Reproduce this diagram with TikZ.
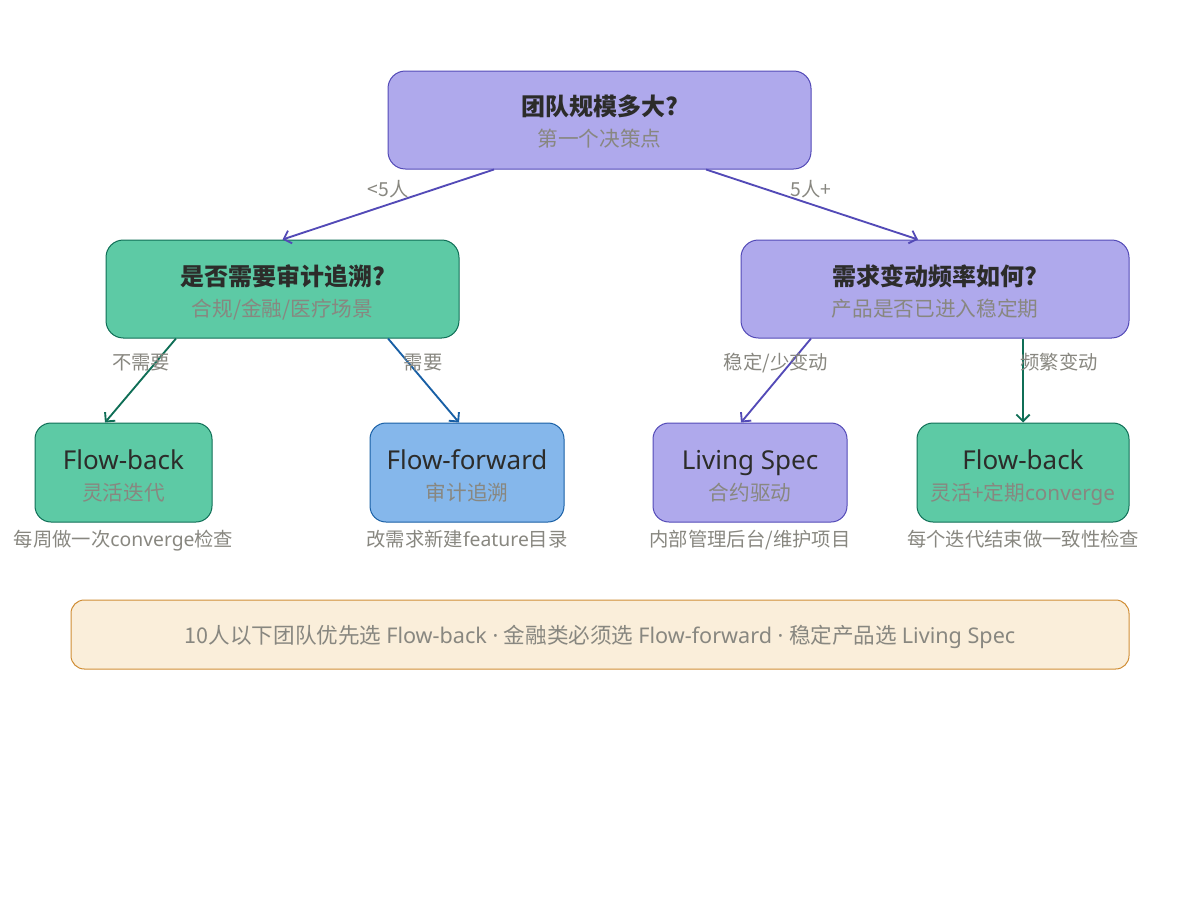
\documentclass[tikz,border=0pt]{standalone}
\usepackage{fontspec}
\setmainfont{Noto Sans CJK SC}
\newfontfamily\lat{Noto Sans}
\usetikzlibrary{arrows.meta,calc}
\definecolor{pfill}{HTML}{AFA9EC}
\definecolor{pdraw}{HTML}{534AB7}
\definecolor{gfill}{HTML}{5DCAA5}
\definecolor{gdraw}{HTML}{0F6E56}
\definecolor{bfill}{HTML}{85B7EB}
\definecolor{bdraw}{HTML}{185FA5}
\definecolor{ofill}{HTML}{FAEEDA}
\definecolor{odraw}{HTML}{D08E36}
\definecolor{titlec}{HTML}{2C2C2A}
\definecolor{subc}{HTML}{888780}
\begin{document}
\begin{tikzpicture}[x=0.75pt,y=-0.75pt,
  box/.style={draw, line width=0.75pt, inner sep=0pt, rounded corners=13pt},
  qbox/.style={box, minimum height=73.5pt},
  leafbox/.style={box, rounded corners=12pt, minimum height=74.25pt},
  purple/.style={fill=pfill, draw=pdraw},
  green/.style={fill=gfill, draw=gdraw},
  blue/.style={fill=bfill, draw=bdraw},
  txt/.style={inner sep=0pt, text height=0.88em, text depth=0.12em, yshift=-3pt},
  ttl/.style={txt, font=\fontsize{18}{20}\selectfont\bfseries, text=titlec},
  ltl/.style={txt, font=\fontsize{19.5}{22}\selectfont\lat, text=titlec},
  sub/.style={txt, font=\fontsize{15.5}{18}\selectfont, text=subc},
  note/.style={txt, font=\fontsize{14.5}{17}\selectfont, text=subc},
  conn/.style={line width=1.4pt, -{Straight Barb[length=5pt,width=10pt,line width=1.4pt]}},
]
\useasboundingbox (0,0) rectangle (1200,900);

% boxes
\node[qbox, purple, minimum width=317.25pt] (top) at (599.5,120) {};
\node[qbox, green, minimum width=264.75pt] (left) at (282.5,289) {};
\node[qbox, purple, minimum width=291pt] (right) at (935,289) {};
\node[leafbox, green, minimum width=132.75pt] (l1) at (123.5,472.5) {};
\node[leafbox, blue, minimum width=145.5pt] (l2) at (467,472.5) {};
\node[leafbox, purple, minimum width=145.5pt] (l3) at (750,472.5) {};
\node[leafbox, green, minimum width=159pt] (l4) at (1023,472.5) {};
\node[box, rounded corners=10pt, fill=ofill, draw=odraw, minimum width=793.5pt, minimum height=51.75pt] (bot) at (600,634.5) {};

% texts
\node[ttl] (topT) at ($(top)+(0,-14)$) {团队规模多大?};
\node[sub] (topS) at ($(top)+(0,17.5)$) {第一个决策点};
\node[ttl] (leftT) at ($(left)+(0,-13)$) {是否需要审计追溯?};
\node[sub] (leftS) at ($(left)+(0,18)$) {合规/金融/医疗场景};
\node[ttl] (rightT) at ($(right)+(0,-13)$) {需求变动频率如何?};
\node[sub] (rightS) at ($(right)+(0,18)$) {产品是否已进入稳定期};

\node[ltl] (l1T) at ($(l1)+(0,-12.5)$) {Flow-back};
\node[sub] (l1S) at ($(l1)+(0,18.5)$) {灵活迭代};
\node[ltl] (l2T) at ($(l2)+(0,-12.5)$) {Flow-forward};
\node[sub] (l2S) at ($(l2)+(0,18.5)$) {审计追溯};
\node[ltl] (l3T) at ($(l3)+(0,-12.5)$) {Living Spec};
\node[sub] (l3S) at ($(l3)+(0,18.5)$) {合约驱动};
\node[ltl] (l4T) at ($(l4)+(0,-12.5)$) {Flow-back};
\node[sub] (l4S) at ($(l4)+(0,18.5)$) {灵活+定期{\lat converge}};

\node[note] (n1) at (123.5,537) {每周做一次{\lat converge}检查};
\node[note] (n2) at (467,537) {改需求新建{\lat feature}目录};
\node[note] (n3) at (750,537) {内部管理后台/维护项目};
\node[note] (n4) at (1023,537) {每个迭代结束做一致性检查};

\node[txt, font=\fontsize{16.2}{19}\selectfont, text=subc] (botT) at (bot)
  {10人以下团队优先选 {\lat Flow-back · }金融类必须选 {\lat Flow-forward · }稳定产品选 {\lat Living Spec}};

% connectors
\draw[conn, pdraw] ($(top.south)+(-105.5,0)$) -- (left.north);
\draw[conn, pdraw] ($(top.south)+(106.5,0)$) -- ($(right.north)+(-17,0)$);
\draw[conn, gdraw] ($(left.south)+(-106.5,0)$) -- ($(l1.north)+(-18.5,0)$);
\draw[conn, bdraw] ($(left.south)+(105.5,0)$) -- ($(l2.north)+(-8,0)$);
\draw[conn, pdraw] ($(right.south)+(-124,0)$) -- ($(l3.north)+(-9,0)$);
\draw[conn, gdraw] ($(right.south)+(88,0)$) -- (l4.north);

% connector labels
\node[note] (e1) at (388,187) {<5人};
\node[note] (e2) at (811,187) {5人+};
\node[note] (e3) at (141,360) {不需要};
\node[note] (e4) at (423,360) {需要};
\node[note] (e5) at (776,360) {稳定/少变动};
\node[note] (e6) at (1059,360) {频繁变动};
\end{tikzpicture}
\end{document}
